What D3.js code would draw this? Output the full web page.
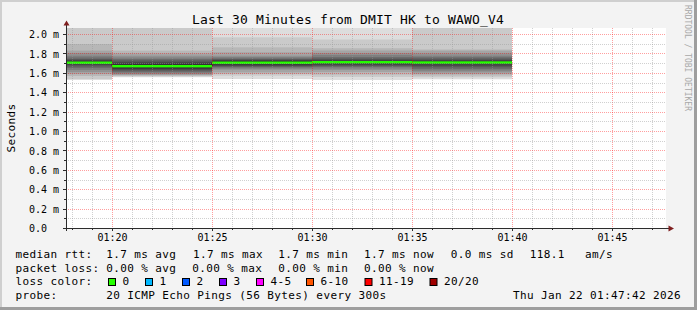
<!DOCTYPE html>
<html><head><meta charset="utf-8">
<script src="https://cdn.jsdelivr.net/npm/d3@7"></script>
<style>
body{margin:0;background:#f3f3f3}
svg{display:block}
text{font-family:"DejaVu Sans Mono",monospace;white-space:pre;fill:#000}
</style>
</head><body><svg id="c" width="697" height="310"></svg>
<script>
// ---------- data ----------
const title = "Last 30 Minutes from DMIT HK to WAWO_V4";
const timeStart = "01:17:42";
const timeEnd = "01:47:42";
const segmentEnds = ["01:20:00","01:25:00","01:30:00","01:35:00","01:40:00"];
const medians = [1.704, 1.668, 1.704, 1.709, 1.706];
// 20 sorted ping rtts (ms) per 5-minute step
const pings1 = [1.526,1.536,1.567,1.588,1.608,1.629,1.649,1.665,1.680,1.692,1.716,1.732,1.742,1.758,1.776,1.804,1.828,1.897,2.10,2.40];
const pings2 = [1.554,1.562,1.570,1.577,1.585,1.595,1.608,1.622,1.634,1.645,1.691,1.708,1.727,1.742,1.758,1.776,1.801,1.828,2.10,2.30];
const pings3 = [1.536,1.570,1.588,1.605,1.632,1.644,1.657,1.665,1.673,1.686,1.722,1.732,1.740,1.749,1.763,1.776,1.811,1.863,1.966,2.30];
const pings4 = [1.526,1.557,1.582,1.608,1.629,1.644,1.660,1.670,1.680,1.696,1.722,1.734,1.747,1.763,1.784,1.804,1.830,1.853,1.943,2.30];
const pings5 = [1.533,1.554,1.572,1.588,1.605,1.622,1.639,1.657,1.673,1.693,1.719,1.732,1.746,1.760,1.776,1.801,1.828,1.840,2.10,2.30];
const yTickValues = [0,0.2,0.4,0.6,0.8,1.0,1.2,1.4,1.6,1.8,2.0];
const yTickLabels = ["0.0","0.2 m","0.4 m","0.6 m","0.8 m","1.0 m","1.2 m","1.4 m","1.6 m","1.8 m","2.0 m"];
const xTickLabels = ["01:20","01:25","01:30","01:35","01:40","01:45"];
const yMax = 2.0619;
const lossLabels = ["0","1","2","3","4-5","6-10","11-19","20/20"];
const lossColors = ["#26ff00","#00b8ff","#0059ff","#7e00ff","#ff00ff","#ff5500","#ff0000","#a10000"];
const rttLegend = ["1.7 ms avg","1.7 ms max","1.7 ms min","1.7 ms now","0.0 ms sd","118.1","am/s"];
const lossLegend = ["0.00 % avg","0.00 % max","0.00 % min","0.00 % now"];
const probeText = "20 ICMP Echo Pings (56 Bytes) every 300s";
const dateText = "Thu Jan 22 01:47:42 2026";
const watermark = "RRDTOOL / TOBI OETIKER";
const yLabel = "Seconds";

// ---------- drawing ----------
const pingSets = [pings1, pings2, pings3, pings4, pings5];
const svg = d3.select("#c");
const W = 697, H = 310;
const L = 66, R = 666, T = 28, B = 228;
const parseT = d3.timeParse("%H:%M:%S");
const t0 = parseT(timeStart), t1 = parseT(timeEnd);
const x = d3.scaleTime().domain([t0, t1]).range([L, R]);
const y = d3.scaleLinear().domain([0, yMax]).range([B, T]);
const crisp = v => Math.round(v) + 0.5;

svg.append("rect").attr("width", W).attr("height", H).attr("fill", "#f3f3f3");
// frame shading
svg.append("rect").attr("x",0).attr("y",0).attr("width",W).attr("height",2).attr("fill","#cfcfcf");
svg.append("rect").attr("x",0).attr("y",0).attr("width",2).attr("height",H).attr("fill","#cfcfcf");
svg.append("rect").attr("x",0).attr("y",H-3).attr("width",W).attr("height",3).attr("fill","#9e9e9e");
svg.append("rect").attr("x",W-3).attr("y",0).attr("width",3).attr("height",H).attr("fill","#9e9e9e");

// plot background
svg.append("rect").attr("x", L).attr("y", T).attr("width", R-L).attr("height", B-T).attr("fill", "#ffffff");

svg.append("clipPath").attr("id","clip").append("rect")
  .attr("x", L).attr("y", T).attr("width", R-L).attr("height", B-T);
const plot = svg.append("g").attr("clip-path","url(#clip)");

// smoke
const segs = segmentEnds.map((e, i) => {
  const end = parseT(e);
  return {start: d3.timeMinute.offset(end, -5), end, med: medians[i], p: pingSets[i]};
});
segs.forEach(s => {
  for (let k = 1; k <= 10; k++) {
    const lo = s.p[k-1], hi = s.p[20-k];
    const c = Math.floor(190/10*(10-k)) + 50;
    plot.append("rect")
      .attr("x", x(s.start)).attr("width", x(s.end) - x(s.start))
      .attr("y", y(hi)).attr("height", y(lo) - y(hi))
      .attr("fill", d3.rgb(c, c, c));
  }
});

// grid
const grid = svg.append("g").attr("fill","none").attr("stroke-width",1).attr("stroke-dasharray","1,1");
const minutes = d3.timeMinute.range(t0, t1);
minutes.forEach(m => {
  const major = m.getMinutes() % 5 === 0;
  grid.append("line").attr("x1", crisp(x(m))).attr("x2", crisp(x(m)))
    .attr("y1", T).attr("y2", B)
    .attr("stroke", major ? "rgba(255,0,0,0.38)" : "rgba(150,150,150,0.45)");
});
d3.range(1, 21).forEach(i => {
  const v = i / 10;
  const major = i % 2 === 0;
  grid.append("line").attr("x1", L).attr("x2", R)
    .attr("y1", crisp(y(v))).attr("y2", crisp(y(v)))
    .attr("stroke", major ? "rgba(255,0,0,0.38)" : "rgba(150,150,150,0.45)");
});

// median step line + loss-coloured band
const line = d3.line().x(d => d[0]).y(d => d[1]);
const pts = [];
segs.forEach(s => { pts.push([x(s.start), y(s.med)]); pts.push([x(s.end), y(s.med)]); });
plot.append("path").attr("d", line(pts)).attr("fill","none").attr("stroke","#202020").attr("stroke-width",1);
segs.forEach(s => {
  plot.append("rect").attr("x", x(s.start)).attr("width", x(s.end)-x(s.start))
    .attr("y", y(s.med) - 1.2).attr("height", 2.4).attr("fill", lossColors[0]);
});

// axes
const axisColor = "#2c2c2c";
minutes.forEach(m => {
  const major = m.getMinutes() % 5 === 0;
  svg.append("line").attr("x1", crisp(x(m))).attr("x2", crisp(x(m)))
    .attr("y1", B).attr("y2", B + (major ? 3 : 2)).attr("stroke", axisColor);
});
d3.range(1, 21).forEach(i => {
  const v = i/10;
  svg.append("line").attr("y1", crisp(y(v))).attr("y2", crisp(y(v)))
    .attr("x1", L - (i%2===0 ? 3 : 2)).attr("x2", L).attr("stroke", axisColor);
});
const xTicks = xTickLabels.map(s => parseT(s + ":00"));
const xAxis = d3.axisBottom(x).tickValues(xTicks).tickFormat((d, i) => xTickLabels[i]).tickSize(0);
const gx = svg.append("g").attr("transform", `translate(0,${B})`).call(xAxis);
gx.select(".domain").remove();
gx.selectAll("text").attr("y", 13).attr("dy", 0).attr("font-size", 10)
  .attr("font-family", "DejaVu Sans Mono").attr("fill", "#000");

const yAxis = d3.axisLeft(y).tickValues(yTickValues).tickFormat((d, i) => yTickLabels[i]).tickSize(0);
const gy = svg.append("g").attr("transform", `translate(${L},0)`).call(yAxis);
gy.select(".domain").remove();
gy.selectAll("text").attr("text-anchor", "start").attr("x", 29 - L).attr("y", 3.6).attr("dy", 0)
  .attr("font-size", 10).attr("font-family", "DejaVu Sans Mono").attr("fill", "#000");

svg.append("line").attr("x1", L - 3).attr("x2", R + 3).attr("y1", B + 0.5).attr("y2", B + 0.5).attr("stroke", axisColor);
svg.append("line").attr("x1", L + 0.5).attr("x2", L + 0.5).attr("y1", B + 3).attr("y2", T - 3).attr("stroke", axisColor);
const arrowColor = "#7f1f1f";
svg.append("path").attr("d", `M${L-2.5},${T-2.5}L${L+3.5},${T-2.5}L${L+0.5},${T-7.5}Z`).attr("fill", arrowColor);
svg.append("path").attr("d", `M${R+2.5},${B-2.5}L${R+2.5},${B+3.5}L${R+8},${B+0.5}Z`).attr("fill", arrowColor);

// title & labels
svg.append("text").attr("x", 348).attr("y", 24).attr("text-anchor","middle")
  .attr("font-size", 13).attr("letter-spacing", 0.17).text(title);
svg.append("text").attr("transform", "translate(14.5,128) rotate(-90)").attr("text-anchor","middle")
  .attr("font-size", 11).attr("letter-spacing", 0.38).text(yLabel);
svg.append("text").attr("transform", "translate(685,5) rotate(90)").attr("text-anchor","start")
  .attr("font-size", 8).style("fill","#a8a8a8").text(watermark);

// legend
const lg = svg.append("g").attr("font-size", 11).attr("letter-spacing", 0.38);
const row = (txt, xx, yy) => lg.append("text").attr("x", xx).attr("y", yy).text(txt);
const rttX = [106.3, 193, 278.3, 364, 450.7, 529.7, 585];
row("median rtt:", 15.5, 258);
rttLegend.forEach((t, i) => row(t, rttX[i], 258));
const lossX = [106.3, 192.3, 278.3, 364];
row("packet loss:", 15.5, 271.5);
lossLegend.forEach((t, i) => row(t, lossX[i], 271.5));
row("loss color:", 15.5, 285);
const boxX = [108.5, 145.5, 182.5, 219.5, 256.5, 306.5, 365, 430];
lossLabels.forEach((t, i) => {
  lg.append("rect").attr("x", boxX[i]).attr("y", 278.5).attr("width", 7).attr("height", 7)
    .attr("fill", lossColors[i]).attr("stroke", "#000").attr("stroke-width", 1);
  row(t, boxX[i] + 14, 285);
});
row("probe:", 15.5, 298.5);
row(probeText, 106.3, 298.5);
lg.append("text").attr("x", 681).attr("y", 298.5).attr("text-anchor", "end").text(dateText);
</script>
</body></html>
